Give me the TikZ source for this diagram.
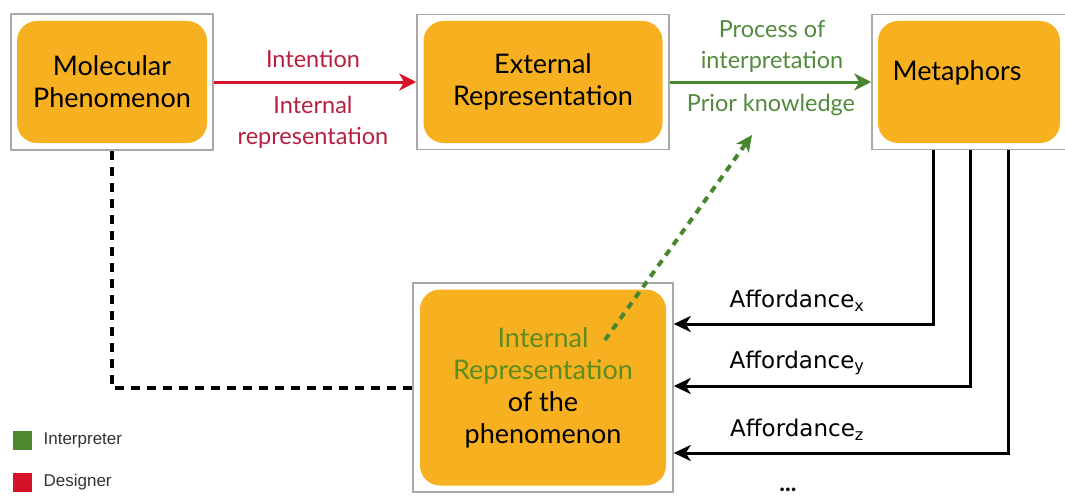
\documentclass[tikz,border=0pt]{standalone}
\usepackage{fontspec}
\setmainfont{Lato}
\newfontfamily\affont{DejaVu Sans}
\newfontfamily\legfont{Liberation Sans}
\usepackage{tikz}
\usetikzlibrary{arrows.meta}
\definecolor{boxorange}{RGB}{247,177,32}
\definecolor{framegray}{RGB}{168,168,168}
\definecolor{desred}{RGB}{214,18,40}
\definecolor{desredtext}{RGB}{185,30,62}
\definecolor{intgreen}{RGB}{72,135,48}
\definecolor{intgreentext}{RGB}{82,138,60}
\definecolor{olivegreen}{RGB}{92,140,32}
\begin{document}
\begin{tikzpicture} [x=1pt,y=-1pt,semithick]
        \tikzstyle{frame}=[draw=framegray, line width=1.5pt, inner sep=0pt]
        \tikzstyle{card}=[fill=boxorange, rounded corners=20pt, inner sep=0pt, align=center, font=\fontsize{27}{32}\selectfont]
        \tikzstyle{lbl}=[align=center, font=\fontsize{23.5}{31}\selectfont]
        \tikzstyle{aff}=[font=\affont\fontsize{23}{26}\selectfont]
        \useasboundingbox (0,0) rectangle (1065,503);

        % boxes
        \node[frame, minimum width=202, minimum height=136] (MolFrame) at (112,82) {};
        \node[card, minimum width=190, minimum height=122] (Mol) at (MolFrame) {Molecular\\Phenomenon};
        \node[frame, minimum width=252, minimum height=135] (ExtFrame) at (543,82) {};
        \node[card, minimum width=239, minimum height=122] (Ext) at (ExtFrame) {External\\Representation};
        \node[frame, minimum width=194, minimum height=135] (MetaFrame) at (969,82) {};
        \node[card, minimum width=182, minimum height=122, text height=0pt] (Meta) at (MetaFrame) {};
        \node[font=\fontsize{27}{32}\selectfont] (MetaText) at (957,73) {Metaphors};
        \node[frame, minimum width=260, minimum height=209] (IntFrame) at (543,387.5) {};
        \node[card, minimum width=246, minimum height=196] (Int) at (IntFrame) {\textcolor{olivegreen}{Internal}\\\textcolor{olivegreen}{Representation}\\of the\\phenomenon};

        % designer / interpreter
        \path[-{Stealth[length=17pt,width=17pt,inset=5pt]}, line width=3pt]
        (MolFrame) edge[desred] (ExtFrame)
        (ExtFrame) edge[intgreen] (MetaFrame);
        \node[lbl, text=desredtext] (Intention) at (313,59) {Intention};
        \node[lbl, text=desredtext] (IntRep) at (313,122) {Internal\\representation};
        \node[lbl, text=intgreentext] (Process) at (772,46) {Process of\\interpretation};
        \node[lbl, text=intgreentext] (Prior) at (771,105) {Prior knowledge};

        \coordinate (GreenStart) at (605,340);
        \coordinate (GreenEnd) at (752,135);
        \draw[intgreen, line width=4pt, dash pattern=on 7pt off 6pt, -{Stealth[length=16pt,width=15pt,inset=4pt]}] (GreenStart) -- (GreenEnd);

        \draw[line width=4pt, dash pattern=on 9pt off 7pt] (MolFrame.south) |- (IntFrame.west);

        % affordances
        \coordinate (Ax) at (933,324);
        \coordinate (Ay) at (970,386);
        \coordinate (Az) at (1008,453);
        \foreach \a in {Ax,Ay,Az}
          \draw[line width=3pt, -{Stealth[length=17pt,width=16pt,inset=5pt]}] (MetaFrame.south -| \a) |- (IntFrame.east |- \a);
        \node[aff] (AffX) at (797,301) {Affordance\textsubscript{x}};
        \node[aff] (AffY) at (797,363) {Affordance\textsubscript{y}};
        \node[aff] (AffZ) at (797,430) {Affordance\textsubscript{z}};
        \node[font=\fontsize{24}{26}\selectfont\bfseries] (Dots) at (788,490) {...};

        % legend
        \node[fill=intgreen!85!olivegreen, minimum size=19, inner sep=0pt] (GreenKey) at (22.5,440) {};
        \node[fill=desred, minimum size=19, inner sep=0pt] (RedKey) at (22.5,482) {};
        \node[anchor=west, font=\legfont\fontsize{17}{20}\selectfont, text=black!80] (Interp) at (40,440) {Interpreter};
        \node[anchor=west, font=\legfont\fontsize{17}{20}\selectfont, text=black!80] (Design) at (40,482) {Designer};
      \end{tikzpicture}
\end{document}
